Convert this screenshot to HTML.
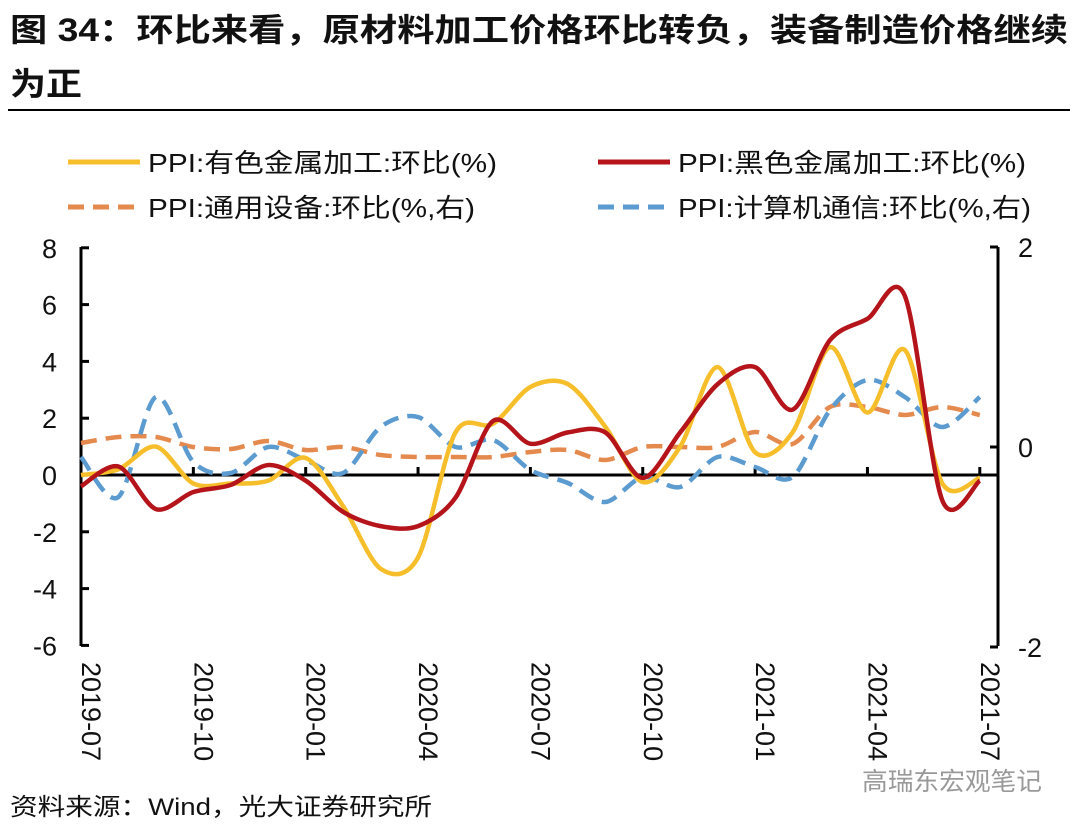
<!DOCTYPE html>
<html><head><meta charset="utf-8"><style>
body{margin:0;background:#fff;width:1078px;height:828px;overflow:hidden;font-family:"Liberation Sans","Noto Sans CJK SC",sans-serif}
</style></head><body>
<svg width="1078" height="828" xmlns="http://www.w3.org/2000/svg" font-family="'Liberation Sans','Noto Sans CJK SC',sans-serif">
<text x="10" y="41" font-size="32" font-weight="bold" fill="#111" textLength="1058" lengthAdjust="spacingAndGlyphs">图 34：环比来看，原材料加工价格环比转负，装备制造价格继续</text>
<text x="10" y="95" font-size="32" font-weight="bold" fill="#111" textLength="72" lengthAdjust="spacingAndGlyphs">为正</text>
<line x1="8" y1="110" x2="1070" y2="110" stroke="#000" stroke-width="2"/>
<g font-size="26" fill="#111">
<line x1="68" y1="162" x2="140" y2="162" stroke="#F5BE2A" stroke-width="5"/>
<text x="148" y="172" textLength="349" lengthAdjust="spacingAndGlyphs">PPI:有色金属加工:环比(%)</text>
<line x1="598" y1="162" x2="670" y2="162" stroke="#B4141A" stroke-width="5"/>
<text x="678" y="172" textLength="348" lengthAdjust="spacingAndGlyphs">PPI:黑色金属加工:环比(%)</text>
<line x1="68" y1="207" x2="140" y2="207" stroke="#E58A4E" stroke-width="5" stroke-dasharray="16,9"/>
<text x="148" y="217" textLength="327" lengthAdjust="spacingAndGlyphs">PPI:通用设备:环比(%,右)</text>
<line x1="598" y1="207" x2="670" y2="207" stroke="#5B9BD0" stroke-width="5" stroke-dasharray="16,9"/>
<text x="678" y="217" textLength="353" lengthAdjust="spacingAndGlyphs">PPI:计算机通信:环比(%,右)</text>
</g>
<g id="plot"></g>
<text x="10" y="815" font-size="24" fill="#111" textLength="422" lengthAdjust="spacingAndGlyphs">资料来源：Wind，光大证券研究所</text>
<text x="862" y="790" font-size="25" fill="#999" textLength="180" lengthAdjust="spacingAndGlyphs">高瑞东宏观笔记</text>
</svg>
<script>
const months=["2019-07","2019-10","2020-01","2020-04","2020-07","2020-10","2021-01","2021-04","2021-07"];
const leftTicks=[8,6,4,2,0,-2,-4,-6];
const rightTicks=[2,0,-2];
const nonferrous=[0,0.2,1.0,-0.3,-0.3,-0.2,0.6,-1.1,-3.3,-2.9,1.5,1.8,3.1,3.2,1.7,-0.25,1.0,3.8,0.8,1.5,4.5,2.2,4.4,-0.3,-0.1];
const ferrous=[-0.4,0.3,-1.2,-0.6,-0.35,0.35,-0.2,-1.3,-1.8,-1.8,-0.8,1.9,1.1,1.5,1.5,-0.1,1.5,3.2,3.8,2.3,4.75,5.5,6.3,-0.9,-0.2];
const equipment=[0.04,0.1,0.1,0,-0.02,0.06,-0.03,0,-0.08,-0.1,-0.1,-0.1,-0.05,-0.03,-0.13,0,0,0,0.15,0.03,0.4,0.4,0.32,0.4,0.32];
const computer=[-0.1,-0.5,0.5,-0.15,-0.26,0,-0.13,-0.26,0.2,0.3,0,0.07,-0.23,-0.36,-0.55,-0.3,-0.4,-0.1,-0.2,-0.3,0.37,0.67,0.5,0.2,0.5];
const NS='http://www.w3.org/2000/svg';
const g=document.getElementById('plot');
const X0=81,X1=998,DX=37.45;
const x=i=>X0+i*DX;
const yL=v=>475-v*28.4;
const yR=v=>447-v*100;
function mk(t,a){const e=document.createElementNS(NS,t);for(const k in a)e.setAttribute(k,a[k]);g.appendChild(e);return e;}
function path(vals,fy){const p=vals.map((v,i)=>[x(i),fy(v)]);let d='M'+p[0][0]+','+p[0][1];
for(let i=0;i<p.length-1;i++){const a=p[Math.max(i-1,0)],b=p[i],c=p[i+1],e=p[Math.min(i+2,p.length-1)];const t=6.5;
d+=' C'+(b[0]+(c[0]-a[0])/t)+','+(b[1]+(c[1]-a[1])/t)+' '+(c[0]-(e[0]-b[0])/t)+','+(c[1]-(e[1]-b[1])/t)+' '+c[0]+','+c[1];}return d;}
let e=mk('line',{x1:X0,y1:247,x2:X0,y2:646,stroke:'#000','stroke-width':3});


e=mk('line',{x1:X1,y1:247,x2:X1,y2:646,stroke:'#000','stroke-width':3});


leftTicks.forEach(v=>{const t=mk('line',{x1:X0,y1:yL(v),x2:X0+8,y2:yL(v),stroke:'#000','stroke-width':3});


const l=mk('text',{x:X0-24,y:yL(v)+10,'font-size':27,'text-anchor':'end',fill:'#111'});l.textContent=v;

});
rightTicks.forEach(v=>{const t=mk('line',{x1:X1-8,y1:yR(v),x2:X1,y2:yR(v),stroke:'#000','stroke-width':3});


const l=mk('text',{x:X1+20,y:yR(v)+10,'font-size':27,fill:'#111'});l.textContent=v;

});
e=mk('line',{x1:X0,y1:yL(0),x2:X1,y2:yL(0),stroke:'#000','stroke-width':3});


months.forEach((m,k)=>{const i=k*3;if(i>0){const t=mk('line',{x1:x(i),y1:yL(0),x2:x(i),y2:yL(0)-8,stroke:'#000','stroke-width':3});

}
const l=mk('text',{x:0,y:0,'font-size':27,fill:'#111',transform:'translate('+(x(i)+1)+',662) rotate(90)'});l.textContent=m;

});
const series=[[equipment,yR,'#E58A4E','16,9','line-equipment'],[computer,yR,'#5B9BD0','16,9','line-computer'],[nonferrous,yL,'#F5BE2A','','line-nonferrous'],[ferrous,yL,'#B4141A','','line-ferrous']];
series.forEach(s=>{const p=mk('path',{d:path(s[0],s[1]),fill:'none',stroke:s[2],'stroke-width':4.5,'stroke-dasharray':s[3]||'none','stroke-linejoin':'round'});

});
</script>
</body></html>
